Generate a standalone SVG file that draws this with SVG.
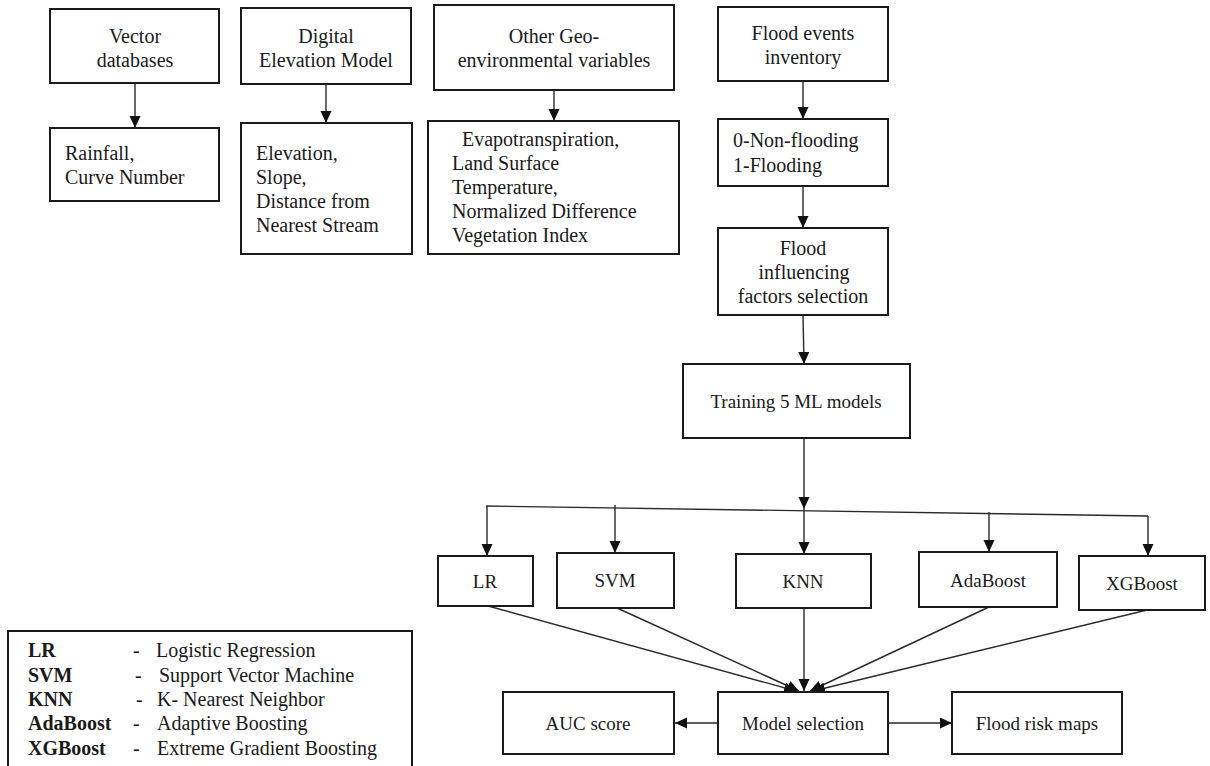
<svg xmlns="http://www.w3.org/2000/svg" width="1210" height="766" viewBox="0 0 1210 766" font-family="Liberation Serif, serif">
<style>
.box{fill:#fff;stroke:#1a1a1a;stroke-width:2}
.t{font-size:20px;fill:#1a1a1a}
.m{text-anchor:middle}
.s{font-size:19px}
.b{font-weight:bold}
.c{stroke:#2a2a2a;stroke-width:1.4;fill:none}
</style>
<defs>
<marker id="ah" markerUnits="userSpaceOnUse" markerWidth="13" markerHeight="12" refX="12" refY="5.5" orient="auto">
<path d="M0,0 L12,5.5 L0,11 z" fill="#111"/>
</marker>
</defs>
<rect width="1210" height="766" fill="#fff"/>

<g id="connectors">
<line class="c" x1="135" y1="83" x2="135" y2="128" marker-end="url(#ah)"/>
<line class="c" x1="326" y1="84" x2="326" y2="123" marker-end="url(#ah)"/>
<line class="c" x1="554" y1="90" x2="554" y2="121" marker-end="url(#ah)"/>
<line class="c" x1="803" y1="81" x2="803" y2="119" marker-end="url(#ah)"/>
<line class="c" x1="803" y1="186" x2="803" y2="228" marker-end="url(#ah)"/>
<line class="c" x1="803" y1="315" x2="804" y2="364" marker-end="url(#ah)"/>
<line class="c" x1="804" y1="438" x2="804" y2="509" marker-end="url(#ah)"/>
<line class="c" x1="486" y1="506" x2="1148" y2="516"/>
<line class="c" x1="487" y1="506" x2="487" y2="556" marker-end="url(#ah)"/>
<line class="c" x1="615" y1="505" x2="615" y2="553" marker-end="url(#ah)"/>
<line class="c" x1="804" y1="509" x2="804" y2="554" marker-end="url(#ah)"/>
<line class="c" x1="989" y1="512" x2="989" y2="552" marker-end="url(#ah)"/>
<line class="c" x1="1148" y1="516" x2="1148" y2="556" marker-end="url(#ah)"/>
<line class="c" x1="488" y1="606" x2="796" y2="691" marker-end="url(#ah)"/>
<line class="c" x1="617" y1="608" x2="799" y2="691" marker-end="url(#ah)"/>
<line class="c" x1="804" y1="608" x2="804" y2="691" marker-end="url(#ah)"/>
<line class="c" x1="989" y1="607" x2="810" y2="691" marker-end="url(#ah)"/>
<line class="c" x1="1147" y1="610" x2="813" y2="691" marker-end="url(#ah)"/>
<line class="c" x1="718" y1="723" x2="675" y2="723" marker-end="url(#ah)"/>
<line class="c" x1="888" y1="723" x2="952" y2="723" marker-end="url(#ah)"/>
</g>

<g id="vector-databases">
<rect class="box" x="50" y="9" width="169" height="74"/>
<text class="t m" x="135" y="43">Vector</text>
<text class="t m" x="135" y="67">databases</text>
</g>
<g id="rainfall">
<rect class="box" x="50" y="128" width="169" height="73"/>
<text class="t" x="65" y="160">Rainfall,</text>
<text class="t" x="65" y="184">Curve Number</text>
</g>
<g id="dem">
<rect class="box" x="241" y="8" width="170" height="76"/>
<text class="t m" x="326" y="43">Digital</text>
<text class="t m" x="326" y="67">Elevation Model</text>
</g>
<g id="elevation">
<rect class="box" x="241" y="123" width="171" height="131"/>
<text class="t" x="256" y="160">Elevation,</text>
<text class="t" x="256" y="184">Slope,</text>
<text class="t" x="256" y="208">Distance from</text>
<text class="t" x="256" y="232">Nearest Stream</text>
</g>
<g id="geo-env">
<rect class="box" x="434" y="5" width="240" height="85"/>
<text class="t m" x="554" y="43">Other Geo-</text>
<text class="t m" x="554" y="67">environmental variables</text>
</g>
<g id="evapo">
<rect class="box" x="428" y="121" width="251" height="133"/>
<text class="t" x="462" y="146">Evapotranspiration,</text>
<text class="t" x="452" y="170">Land Surface</text>
<text class="t" x="452" y="194">Temperature,</text>
<text class="t" x="452" y="218">Normalized Difference</text>
<text class="t" x="452" y="242">Vegetation Index</text>
</g>
<g id="flood-events">
<rect class="box" x="718" y="7" width="170" height="74"/>
<text class="t m" x="803" y="40">Flood events</text>
<text class="t m" x="803" y="64">inventory</text>
</g>
<g id="non-flooding">
<rect class="box" x="718" y="119" width="170" height="67"/>
<text class="t" x="733" y="147">0-Non-flooding</text>
<text class="t" x="733" y="172">1-Flooding</text>
</g>
<g id="factors">
<rect class="box" x="718" y="228" width="170" height="87"/>
<text class="t m" x="803" y="255">Flood</text>
<text class="t m" x="804" y="279">influencing</text>
<text class="t m" x="803" y="303">factors selection</text>
</g>
<g id="training">
<rect class="box" x="683" y="364" width="227" height="74"/>
<text class="t m s" x="796" y="408">Training 5 ML models</text>
</g>
<g id="lr">
<rect class="box" x="438" y="556" width="95" height="50"/>
<text class="t m s" x="485" y="588">LR</text>
</g>
<g id="svm">
<rect class="box" x="557" y="553" width="117" height="55"/>
<text class="t m s" x="615" y="587">SVM</text>
</g>
<g id="knn">
<rect class="box" x="736" y="554" width="135" height="54"/>
<text class="t m s" x="803" y="588">KNN</text>
</g>
<g id="adaboost">
<rect class="box" x="919" y="552" width="138" height="55"/>
<text class="t m s" x="988" y="587">AdaBoost</text>
</g>
<g id="xgboost">
<rect class="box" x="1079" y="556" width="126" height="54"/>
<text class="t m s" x="1142" y="590">XGBoost</text>
</g>
<g id="auc">
<rect class="box" x="503" y="692" width="171" height="62"/>
<text class="t m s" x="588" y="730">AUC score</text>
</g>
<g id="model-selection">
<rect class="box" x="718" y="692" width="170" height="62"/>
<text class="t m s" x="803" y="730">Model selection</text>
</g>
<g id="flood-risk-maps">
<rect class="box" x="952" y="692" width="170" height="62"/>
<text class="t m s" x="1037" y="730">Flood risk maps</text>
</g>
<g id="legend">
<rect class="box" x="8" y="631" width="404" height="145"/>
<text class="t b" x="28" y="657">LR</text>
<text class="t" x="133" y="657">-</text>
<text class="t" x="156" y="657">Logistic Regression</text>
<text class="t b" x="28" y="682">SVM</text>
<text class="t" x="135" y="682">-</text>
<text class="t" x="159" y="682">Support Vector Machine</text>
<text class="t b" x="28" y="706">KNN</text>
<text class="t" x="136" y="706">-</text>
<text class="t" x="157" y="706">K- Nearest Neighbor</text>
<text class="t b" x="28" y="730">AdaBoost</text>
<text class="t" x="133" y="730">-</text>
<text class="t" x="157" y="730">Adaptive Boosting</text>
<text class="t b" x="28" y="755">XGBoost</text>
<text class="t" x="133" y="755">-</text>
<text class="t" x="157" y="755">Extreme Gradient Boosting</text>
</g>
</svg>
